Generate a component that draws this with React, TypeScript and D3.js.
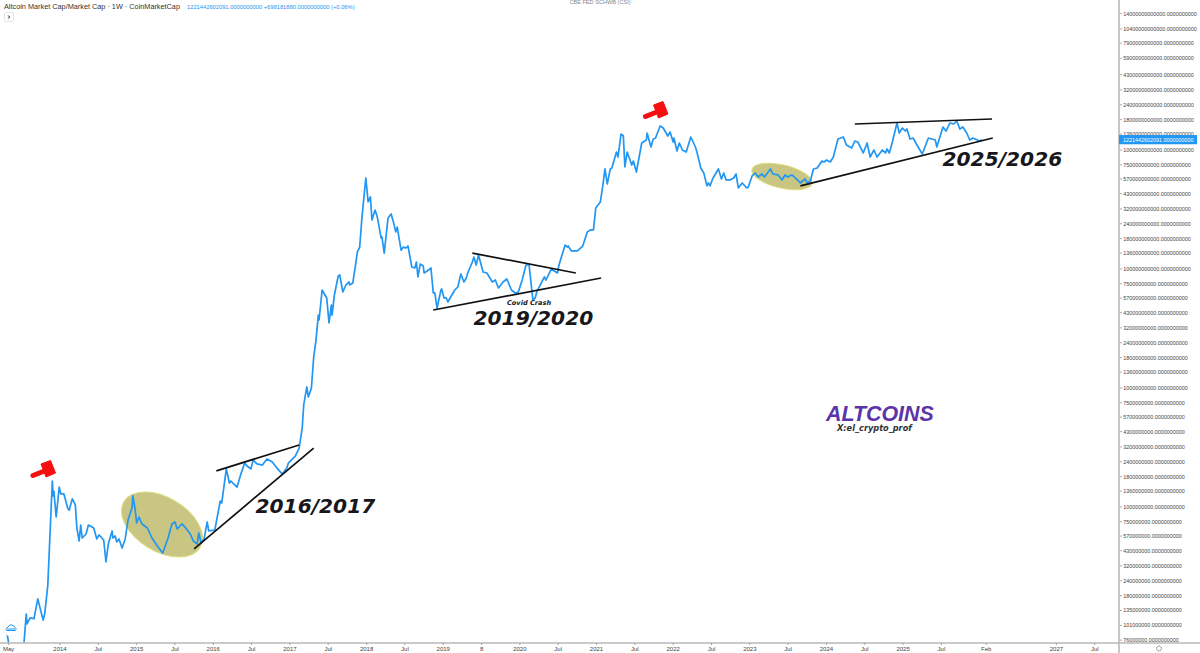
import React from "react";
import * as d3 from "d3";

// Decimal years and market cap in billions of USD
const years2013 = [2013.31,2013.33,2013.36,2013.51,2013.53,2013.56,2013.57,2013.61,2013.66,2013.71,2013.74,2013.78,2013.80,2013.84,2013.90,2013.91,2013.92,2013.95,2013.99];
const caps2013 = [.0857,.072,.06,.06,.072,.126,.104,.117,.115,.169,.142,.112,.126,.216,1.65,1.24,1.36,.824,1.47];
const years2014 = [2014.01,2014.05,2014.10,2014.12,2014.16,2014.20,2014.22,2014.25,2014.27,2014.29,2014.34,2014.37,2014.44,2014.48,2014.51,2014.57,2014.60,2014.63,2014.68,2014.69,2014.72,2014.74,2014.77,2014.81,2014.85,2014.89,2014.94,2014.95,2014.98];
const caps2014 = [1.29,1.29,.98,.94,1.17,1.04,.666,.518,.706,.549,.593,.706,.666,.539,.582,.528,.345,.489,.629,.549,.571,.508,.539,.453,.539,.79,.98,1.24,.96];
const years2015 = [2015.00,2015.03,2015.07,2015.14,2015.20,2015.27,2015.34,2015.41,2015.46,2015.50,2015.53,2015.59,2015.63,2015.70,2015.74,2015.79,2015.81,2015.84,2015.88,2015.92,2015.94];
const caps2015 = [.734,.824,.72,.666,.549,.47,.41,.549,.72,.748,.653,.72,.68,.593,.518,.489,.605,.499,.539,.748,.629];
const years2016 = [2016.02,2016.09,2016.11,2016.17,2016.21,2016.23,2016.31,2016.36,2016.41,2016.44,2016.49,2016.52,2016.57,2016.64,2016.70,2016.77,2016.83,2016.90,2016.96,2016.98];
const caps2016 = [.641,1.12,1.08,2.09,1.59,1.65,1.47,1.89,2.34,2.21,2.09,2.48,2.30,2.25,2.53,2.39,2.13,1.89,2.13,2.34];
const years2017 = [2017.07,2017.12,2017.16,2017.18,2017.22,2017.24,2017.28,2017.31,2017.34,2017.37,2017.38,2017.42,2017.48,2017.51,2017.54,2017.55,2017.58,2017.63,2017.65,2017.69,2017.73,2017.77,2017.78,2017.82,2017.85,2017.88,2017.91,2017.94,2017.99];
const caps2017 = [2.68,3.13,4.61,7.2,10.2,8.4,10,18.2,25.3,41,37.3,66.6,57.1,35.2,49.8,41,60.5,87.3,89.1,64.1,73.4,77.8,73.4,76.3,102,139,153,273,582];
const years2018 = [2018.02,2018.05,2018.07,2018.11,2018.14,2018.19,2018.20,2018.23,2018.28,2018.32,2018.35,2018.38,2018.40,2018.45,2018.48,2018.51,2018.54,2018.59,2018.63,2018.65,2018.67,2018.70,2018.74,2018.75,2018.79,2018.84,2018.87,2018.89,2018.92,2018.97,2018.98];
const caps2018 = [366,403,258,313,273,182,186,136,268,290,248,205,225,144,153,150,156,104,102,114.5,85.7,110,106,92.6,96.2,102,62.9,62.9,47,66.6,67.9];
const years2019 = [2019.01,2019.04,2019.06,2019.15,2019.19,2019.23,2019.27,2019.30,2019.32,2019.38,2019.40,2019.43,2019.46,2019.52,2019.57,2019.64,2019.68,2019.72,2019.78,2019.83,2019.89,2019.94,2019.98];
const caps2019 = [57.1,57.1,52.8,66.6,70.6,90.8,77.8,84,92.6,114.5,126,108,131,94.4,92.6,77.8,80.8,69.3,77.8,82.4,66.6,62.9,64.1];
const years2020 = [2020.03,2020.08,2020.12,2020.17,2020.20,2020.22,2020.32,2020.34,2020.41,2020.49,2020.51,2020.59,2020.62,2020.63,2020.67,2020.75,2020.82,2020.88,2020.92,2020.96,2020.99];
const caps2020 = [80.8,108,108,54.9,57.1,64.1,85.7,80.8,100,92.6,108,159,153,156,142,142,156,205,213,213,326];
const years2021 = [2021.05,2021.08,2021.11,2021.14,2021.18,2021.20,2021.26,2021.28,2021.32,2021.35,2021.37,2021.40,2021.46,2021.48,2021.52,2021.59,2021.65,2021.66,2021.71,2021.74,2021.77,2021.83,2021.87,2021.93,2021.96];
const caps2021 = [366,489,693,518,693,706,962,873,1363,1311,720,962,748,808,653,1145,1213,1389,1060,1237,1261,1591,1530,1311,1416];
const years2022 = [2022.00,2022.01,2022.05,2022.08,2022.12,2022.17,2022.23,2022.29,2022.31,2022.36,2022.40,2022.44,2022.46,2022.48,2022.52,2022.59,2022.63,2022.66,2022.69,2022.74,2022.79,2022.82,2022.85,2022.90,2022.96,2022.98];
const caps2022 = [1167,1261,981,1145,1000,962,1286,1060,962,706,641,499,528,499,582,693,571,641,560,560,582,629,480,528,480,489];
const years2023 = [2023.03,2023.07,2023.11,2023.16,2023.19,2023.27,2023.30,2023.37,2023.42,2023.46,2023.49,2023.55,2023.62,2023.66,2023.72,2023.75,2023.79,2023.83,2023.88,2023.94,2023.97];
const caps2023 = [605,641,593,629,593,693,629,617,560,617,593,617,560,528,571,528,549,693,706,808,793];
const years2024 = [2024.00,2024.05,2024.09,2024.15,2024.22,2024.26,2024.33,2024.37,2024.41,2024.48,2024.53,2024.57,2024.62,2024.66,2024.73,2024.77,2024.79,2024.82,2024.86,2024.92,2024.95,2024.99];
const caps2024 = [824,793,873,1237,1286,1102,1039,1190,1167,944,1145,873,1000,873,1000,944,1020,944,1167,1686,1389,1530];
const years2025 = [2025.03,2025.05,2025.09,2025.13,2025.18,2025.25,2025.33,2025.42,2025.44,2025.52,2025.56,2025.61,2025.66,2025.70,2025.74,2025.78,2025.83,2025.87,2025.91,2026.00,2026.03];
const caps2025 = [1444,1501,1237,1261,1102,926,1261,1213,1060,1560,1444,1686,1654,1753,1501,1560,1389,1213,1261,1190,1221];

const allYears = [...years2013,...years2014,...years2015,...years2016,...years2017,...years2018,...years2019,...years2020,...years2021,...years2022,...years2023,...years2024,...years2025];
const allCaps = [...caps2013,...caps2014,...caps2015,...caps2016,...caps2017,...caps2018,...caps2019,...caps2020,...caps2021,...caps2022,...caps2023,...caps2024,...caps2025];

const priceTicks = [19e12,14e12,10.4e12,7.9e12,5.9e12,4.3e12,3.2e12,2.4e12,1.8e12,1.36e12,1e12,7.5e11,5.7e11,4.3e11,3.2e11,2.4e11,1.8e11,1.36e11,1e11,7.5e10,5.7e10,4.3e10,3.2e10,2.4e10,1.8e10,1.36e10,1e10,7.5e9,5.7e9,4.3e9,3.2e9,2.4e9,1.8e9,1.36e9,1e9,7.5e8,5.7e8,4.3e8,3.2e8,2.4e8,1.8e8,1.35e8,1.01e8,7.6e7];
const timeTickYears = [2013.33,2014,2014.5,2015,2015.5,2016,2016.5,2017,2017.5,2018,2018.5,2019,2019.5,2020,2020.5,2021,2021.5,2022,2022.5,2023,2023.5,2024,2024.5,2025,2025.5,2026.085,2027,2027.5];
const timeTickLabels = ["May","2014","Jul","2015","Jul","2016","Jul","2017","Jul","2018","Jul","2019","8","2020","Jul","2021","Jul","2022","Jul","2023","Jul","2024","Jul","2025","Jul","Feb","2027","Jul"];

// Trend lines as [year, cap in billions] ends
const trendStarts = [[2016.04,2.01],[2015.75,.444],[2019.38,136],[2018.87,45.2],[2024.37,1654],[2023.66,499]];
const trendEnds = [[2017.12,3.32],[2017.31,3.13],[2020.73,92.6],[2021.06,84],[2026.16,1822],[2026.17,1261]];

const lastPrice = 1221442602091;
const BLUE = "#2196f3";
const SANS = "'Liberation Sans', Arial, sans-serif";
const DEJA = "'DejaVu Sans', Verdana, sans-serif";

const x = d3.scaleLinear().domain([2014, 2027]).range([60, 1056.4]);
const y = d3.scaleLog().domain([1e13, 1e8]).range([31, 626]);

function Gavel({ dx, dy }: { dx: number; dy: number }) {
  return (
    <g transform={`translate(${dx},${dy})`} fill="#f50f0f" stroke="#f50f0f" strokeLinejoin="round">
      <path d="M653.5 105 L663 101.5 L668 114 L658.5 118 Z" strokeWidth={1} />
      <path d="M645.5 116.5 L655.5 112.5" strokeWidth={5} strokeLinecap="round" fill="none" />
    </g>
  );
}

export default function App() {
  const line = d3
    .line<number>()
    .x((_, i) => x(allYears[i]))
    .y((d) => y(d * 1e9));
  return (
    <svg
      width={1200}
      height={653}
      viewBox="0 0 1200 653"
      style={{ position: "fixed", left: 0, top: 0, display: "block", background: "#fff" }}
    >
      <defs>
        <clipPath id="plot">
          <rect x={0} y={0} width={1118} height={642.5} />
        </clipPath>
      </defs>
      <rect width={1200} height={653} fill="#fff" />

      {/* zones */}
      <ellipse cx={162} cy={524.5} rx={44.4} ry={26.9} transform="rotate(31 162 524.5)" fill="#c9c684" stroke="#dedd7c" strokeWidth={1} />
      <ellipse cx={782} cy={176.5} rx={30.8} ry={11.6} transform="rotate(13 782 176.5)" fill="#c9c684" stroke="#dedd7c" strokeWidth={1} />

      <path d={line(allCaps) ?? ""} fill="none" stroke={BLUE} strokeWidth={1.7} strokeLinejoin="round" clipPath="url(#plot)" />

      {trendStarts.map((s, i) => (
        <line
          key={i}
          x1={x(s[0])}
          y1={y(s[1] * 1e9)}
          x2={x(trendEnds[i][0])}
          y2={y(trendEnds[i][1] * 1e9)}
          stroke="#111"
          strokeWidth={1.7}
        />
      ))}

      <Gavel dx={0} dy={0} />
      <Gavel dx={-612.5} dy={359} />

      {/* annotations */}
      <g fontFamily={DEJA} fontWeight="bold" fontStyle="italic" fill="#17171c" fontSize={20.2}>
        <text x={255.5} y={513}>2016/2017</text>
        <text x={473.5} y={325}>2019/2020</text>
        <text x={942.5} y={166}>2025/2026</text>
      </g>
      <text x={507} y={305} fontFamily={DEJA} fontWeight="bold" fontStyle="italic" fontSize={6.6} fill="#17171c">Covid Crash</text>
      <text x={826} y={421} fontFamily={SANS} fontWeight="bold" fontStyle="italic" fontSize={21.4} fill="#5b35a8">ALTCOINS</text>
      <text x={837} y={431} fontFamily={DEJA} fontWeight="bold" fontStyle="italic" fontSize={8.2} fill="#333">X:el_crypto_prof</text>

      {/* header */}
      <text x={4} y={9} fontFamily={SANS} fontSize={7.3} fill="#333">Altcoin Market Cap/Market Cap · 1W · CoinMarketCap</text>
      <text x={187} y={8.6} fontFamily={SANS} fontSize={5.75} fill={BLUE}>1221442602091.0000000000  +698181880.0000000000 (+0.06%)</text>
      <rect x={4.5} y={12.5} width={9} height={9} rx={1.5} fill="#fff" stroke="#ddd" strokeWidth={0.8} />
      <path d="M7.8 15.5 L10 17 L7.8 18.5" fill="none" stroke="#444" strokeWidth={0.9} />
      <text x={600} y={4} textAnchor="middle" fontFamily={SANS} fontSize={5.6} fill="#888">CBE FED SCHWB (CSI)</text>

      {/* time axis */}
      <line x1={0} x2={1200} y1={643} y2={643} stroke="#b8b8b8" strokeWidth={1.4} />
      {timeTickYears.map((t, i) => (
        <g key={i}>
          <line x1={x(t)} x2={x(t)} y1={643} y2={645} stroke="#888" strokeWidth={0.7} />
          <text x={x(t)} y={651.2} textAnchor="middle" fontFamily={SANS} fontSize={6} fill="#444">{timeTickLabels[i]}</text>
        </g>
      ))}

      {/* price axis */}
      <rect x={1119} y={0} width={81} height={642} fill="#fff" />
      <line x1={1119} x2={1119} y1={0} y2={653} stroke="#b8b8b8" strokeWidth={1.6} />
      {priceTicks.map((p) => (
        <g key={p}>
          <line x1={1120} x2={1122} y1={y(p)} y2={y(p)} stroke="#888" strokeWidth={0.7} />
          <text x={1123.2} y={y(p)} dy="0.36em" fontFamily={SANS} fontSize={5.4} fill="#444">{p.toFixed(10)}</text>
        </g>
      ))}
      <rect x={1119} y={y(lastPrice) - 4.6} width={78} height={9.2} fill={BLUE} />
      <text x={1123} y={y(lastPrice)} dy="0.36em" fontFamily={SANS} fontSize={5.4} fill="#fff">{lastPrice.toFixed(10)}</text>

      {/* corner icons */}
      <circle cx={1159} cy={648.5} r={2.4} fill="none" stroke="#666" strokeWidth={0.9} strokeDasharray="1.2 0.5" />
      <circle cx={11} cy={628} r={8} fill="#fff" stroke="#eef2f6" strokeWidth={0.8} />
      <path d="M6.5 630.5 h9 a2 2 0 0 0 -1 -3.3 a3.5 3.5 0 0 0 -6.6 0 a2 2 0 0 0 -1.4 3.3 Z" fill="none" stroke={BLUE} strokeWidth={1} />
      <path d="M7 629 h8" stroke={BLUE} strokeWidth={1} />
    </svg>
  );
}
